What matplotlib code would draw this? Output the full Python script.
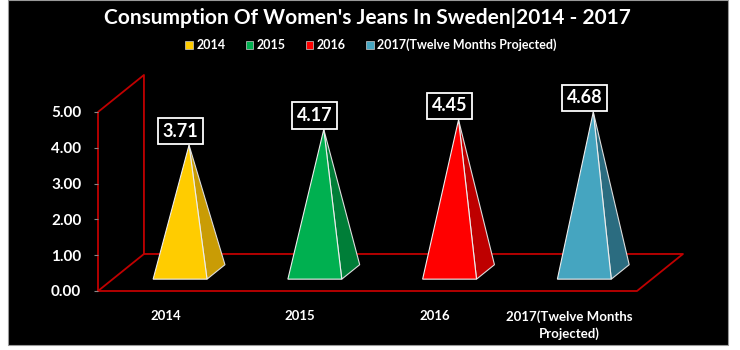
import matplotlib
matplotlib.use("Agg")
import matplotlib.pyplot as plt
from matplotlib.patches import Polygon, Patch, Rectangle

# Chart data
categories = ["2014", "2015", "2016", "2017(Twelve Months\nProjected)"]
legend_labels = ["2014", "2015", "2016", "2017(Twelve Months Projected)"]
values = [3.71, 4.17, 4.45, 4.68]
y_ticks = [0, 1, 2, 3, 4, 5]

front_colors = ["#FFCC00", "#00B050", "#FF0000", "#45A5C0"]
side_colors = ["#C99C05", "#007E38", "#BE0000", "#2B6C80"]
wall_color = "#C00000"

# 3D look: depth offset of the floor in data units
DEPTH_DX = 0.341
DEPTH_DY = 1.034
HALF_W = 0.2
D_FRONT, D_BACK, D_MID = 0.32, 0.71, 0.515
PERSP = 0.955

plt.rcParams["font.family"] = ["Lato", "DejaVu Sans"]
plt.rcParams["font.weight"] = "bold"


def draw_walls(ax, n):
    kw = dict(color=wall_color, lw=1.3, clip_on=False, zorder=1)
    top = y_ticks[-1]
    # side wall
    ax.plot([0, 0, DEPTH_DX, DEPTH_DX, 0],
            [0, top, top + DEPTH_DY, DEPTH_DY, 0], **kw)
    # floor
    ax.plot([0, n, n + DEPTH_DX, DEPTH_DX],
            [0, 0, DEPTH_DY, DEPTH_DY], **kw)


def draw_pyramid(ax, i, value, fc, sc):
    c = i + 0.5
    fl = (c - HALF_W + D_FRONT * DEPTH_DX, D_FRONT * DEPTH_DY)
    fr = (c + HALF_W + D_FRONT * DEPTH_DX, D_FRONT * DEPTH_DY)
    br = (c + HALF_W + D_BACK * DEPTH_DX, D_BACK * DEPTH_DY)
    apex = (c + D_MID * DEPTH_DX, D_MID * DEPTH_DY + value * PERSP)

    side = Polygon([fr, br, apex], closed=True, facecolor=sc,
                   edgecolor="#dddddd", lw=0.8, clip_on=False, zorder=3)
    front = Polygon([fl, fr, apex], closed=True, facecolor=fc,
                    edgecolor="#eeeeee", lw=0.8, clip_on=False, zorder=4)
    ax.add_patch(side)
    ax.add_patch(front)

    # value label in a white-framed box just above the tip
    ax.annotate(f"{value:.2f}", xy=(c + D_FRONT * DEPTH_DX, apex[1]),
                xytext=(0, 4), textcoords="offset points",
                ha="center", va="bottom", color="white", fontsize=13,
                fontweight="bold", zorder=6,
                bbox=dict(boxstyle="square,pad=0.26", facecolor="black",
                          edgecolor="white", lw=1.3))


def main():
    fig = plt.figure(figsize=(7.4, 3.5), dpi=100, facecolor="white")

    # black panel with a light frame around
    fig.patches.append(Rectangle((8 / 740, 5 / 350), 720 / 740, 345 / 350,
                                 transform=fig.transFigure, facecolor="black",
                                 edgecolor="#999999", lw=0.8, zorder=-1))

    ax = fig.add_axes([98 / 740, 59 / 350, 539 / 740, 179 / 350])
    ax.set_facecolor("none")
    n = len(categories)
    ax.set_xlim(0, n)
    ax.set_ylim(0, y_ticks[-1])
    for s in ax.spines.values():
        s.set_visible(False)

    ax.set_yticks(y_ticks)
    ax.set_yticklabels([f"{t:.2f}" for t in y_ticks])
    ax.tick_params(axis="y", colors="#888888", length=3, width=0.8, pad=9,
                   labelcolor="white", labelsize=11)
    ax.set_xticks([i + 0.5 for i in range(n)])
    ax.set_xticklabels(categories, linespacing=1.35)
    ax.tick_params(axis="x", length=0, pad=14, labelcolor="white", labelsize=9.5)
    for lab in ax.get_xticklabels() + ax.get_yticklabels():
        lab.set_fontweight("bold")

    draw_walls(ax, n)
    for i, v in enumerate(values):
        draw_pyramid(ax, i, v, front_colors[i], side_colors[i])

    fig.text(367 / 740, 1 - 18 / 350, "Consumption Of Women's Jeans In Sweden|2014 - 2017",
             ha="center", va="center", color="white", fontsize=15, fontweight="bold")

    handles = [Patch(facecolor=fc, edgecolor="#cccccc", lw=0.5) for fc in front_colors]
    leg = fig.legend(handles, legend_labels, loc="center", ncol=4,
                     bbox_to_anchor=(371 / 740, 1 - 45 / 350), frameon=False,
                     fontsize=9, handlelength=0.6, handleheight=0.6,
                     handletextpad=0.3, columnspacing=1.6)
    for t in leg.get_texts():
        t.set_color("white")
        t.set_fontweight("bold")

    fig.savefig("out.png", dpi=100, facecolor="white")
    plt.close(fig)


if __name__ == "__main__":
    main()
